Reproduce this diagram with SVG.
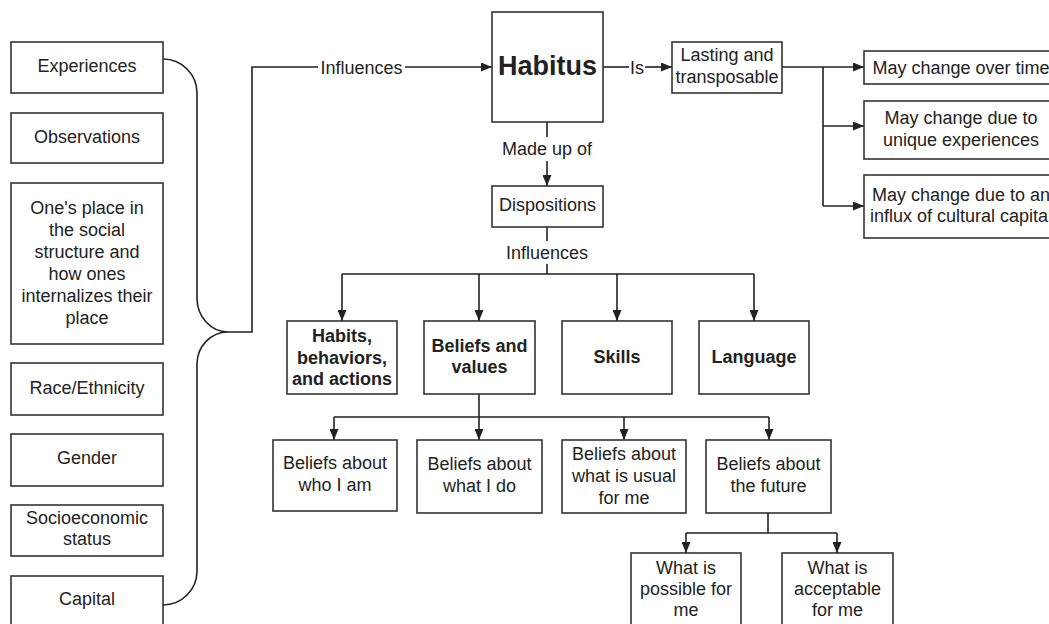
<svg xmlns="http://www.w3.org/2000/svg" width="1049" height="624" viewBox="0 0 1049 624">
<defs>
<marker id="arr" markerUnits="userSpaceOnUse" markerWidth="11" markerHeight="9" refX="11" refY="4.5" orient="auto">
<path d="M0,0 L11,4.5 L0,9 z" fill="#222"/>
</marker>
<style>
.box{fill:#fff;stroke:#333;stroke-width:1.6}
.t{font-family:"Liberation Sans",Arial,sans-serif;font-size:18px;fill:#222;text-anchor:middle}
.b{font-weight:bold}
.ln{fill:none;stroke:#222;stroke-width:1.6}
.ar{fill:none;stroke:#222;stroke-width:1.6;marker-end:url(#arr)}
</style>
</defs>
<rect width="1049" height="624" fill="#fff"/>

<g id="connectors">
<path class="ln" d="M163,59 A34,34 0 0 1 197,93 L197,298 A31,34 0 0 0 228,332 A31,32 0 0 0 197,364 L197,571 A34,34 0 0 1 163,605"/>
<path class="ln" d="M228,332 L252,332 L252,67 L318,67"/>
<path class="ar" d="M405,67 L492,67"/>
<text class="t" x="361.5" y="73.5">Influences</text>
<path class="ln" d="M603,67 L629,67"/>
<path class="ar" d="M645,67 L672,67"/>
<text class="t" x="637" y="73.5">Is</text>
<path class="ar" d="M782,67 L864,67"/>
<path class="ln" d="M823,67 L823,206"/>
<path class="ar" d="M823,126 L864,126"/>
<path class="ar" d="M823,206 L864,206"/>
<path class="ln" d="M547,122 L547,137"/>
<text class="t" x="547" y="154.5">Made up of</text>
<path class="ar" d="M547,161 L547,186"/>
<path class="ln" d="M547,227 L547,241"/>
<text class="t" x="547" y="258.5">Influences</text>
<path class="ln" d="M547,264 L547,274 M342,274 L754,274"/>
<path class="ar" d="M342,274 L342,321"/>
<path class="ar" d="M479,274 L479,321"/>
<path class="ar" d="M617,274 L617,321"/>
<path class="ar" d="M754,274 L754,321"/>
<path class="ln" d="M479,394 L479,417 M334,417 L769,417"/>
<path class="ar" d="M334,417 L334,440"/>
<path class="ar" d="M479,417 L479,440"/>
<path class="ar" d="M624,417 L624,440"/>
<path class="ar" d="M769,417 L769,440"/>
<path class="ln" d="M768,513 L768,533 M686,533 L837,533"/>
<path class="ar" d="M686,533 L686,553"/>
<path class="ar" d="M837,533 L837,553"/>
</g>

<g id="n-experiences"><rect class="box" x="11" y="42" width="152" height="51"/><text class="t" x="87" y="71.5">Experiences</text></g>
<g id="n-observations"><rect class="box" x="11" y="113" width="152" height="50"/><text class="t" x="87" y="142.5">Observations</text></g>
<g id="n-place"><rect class="box" x="11" y="183" width="152" height="161"/>
<text class="t" x="87" y="213.5">One's place in</text>
<text class="t" x="87" y="235.5">the social</text>
<text class="t" x="87" y="257.5">structure and</text>
<text class="t" x="87" y="279.5">how ones</text>
<text class="t" x="87" y="301.5">internalizes their</text>
<text class="t" x="87" y="323.5">place</text></g>
<g id="n-race"><rect class="box" x="11" y="363" width="152" height="52"/><text class="t" x="87" y="393.5">Race/Ethnicity</text></g>
<g id="n-gender"><rect class="box" x="11" y="434" width="152" height="52"/><text class="t" x="87" y="463.5">Gender</text></g>
<g id="n-socio"><rect class="box" x="11" y="505" width="152" height="51"/><text class="t" x="87" y="523.5">Socioeconomic</text><text class="t" x="87" y="544.5">status</text></g>
<g id="n-capital"><rect class="box" x="11" y="576" width="152" height="70"/><text class="t" x="87" y="604.5">Capital</text></g>

<g id="n-habitus"><rect class="box" x="492" y="12" width="111" height="110"/><text class="t b" x="547.5" y="75" style="font-size:27px">Habitus</text></g>
<g id="n-lasting"><rect class="box" x="672" y="42" width="110" height="51"/><text class="t" x="727" y="60.5">Lasting and</text><text class="t" x="727" y="82.5">transposable</text></g>
<g id="n-overtime"><rect class="box" x="864" y="51" width="194" height="33"/><text class="t" x="961" y="73.5">May change over time</text></g>
<g id="n-unique"><rect class="box" x="864" y="101" width="194" height="58"/><text class="t" x="961" y="123.5">May change due to</text><text class="t" x="961" y="145.5">unique experiences</text></g>
<g id="n-influx"><rect class="box" x="864" y="175" width="194" height="63"/><text class="t" x="961" y="200.5">May change due to an</text><text class="t" x="961" y="221.5">influx of cultural capital</text></g>
<g id="n-dispositions"><rect class="box" x="492" y="186" width="111" height="41"/><text class="t" x="547.5" y="210.5">Dispositions</text></g>

<g id="n-habits"><rect class="box" x="287" y="321" width="110" height="73"/><text class="t b" x="342" y="341.5">Habits,</text><text class="t b" x="342" y="363.5">behaviors,</text><text class="t b" x="342" y="384.5">and actions</text></g>
<g id="n-beliefs"><rect class="box" x="424" y="321" width="111" height="73"/><text class="t b" x="479.5" y="351.5">Beliefs and</text><text class="t b" x="479.5" y="372.5">values</text></g>
<g id="n-skills"><rect class="box" x="562" y="321" width="110" height="73"/><text class="t b" x="617" y="362.5">Skills</text></g>
<g id="n-language"><rect class="box" x="699" y="321" width="110" height="73"/><text class="t b" x="754" y="362.5">Language</text></g>

<g id="n-whoiam"><rect class="box" x="273" y="440" width="124" height="71"/><text class="t" x="335" y="468.5">Beliefs about</text><text class="t" x="335" y="490.5">who I am</text></g>
<g id="n-whatido"><rect class="box" x="417" y="440" width="125" height="73"/><text class="t" x="479.5" y="469.5">Beliefs about</text><text class="t" x="479.5" y="491.5">what I do</text></g>
<g id="n-usual"><rect class="box" x="562" y="440" width="124" height="73"/><text class="t" x="624" y="459.5">Beliefs about</text><text class="t" x="624" y="481.5">what is usual</text><text class="t" x="624" y="503.5">for me</text></g>
<g id="n-future"><rect class="box" x="706" y="440" width="125" height="73"/><text class="t" x="768.5" y="469.5">Beliefs about</text><text class="t" x="768.5" y="491.5">the future</text></g>
<g id="n-possible"><rect class="box" x="631" y="553" width="110" height="90"/><text class="t" x="686" y="573.5">What is</text><text class="t" x="686" y="594.5">possible for</text><text class="t" x="686" y="615.5">me</text></g>
<g id="n-acceptable"><rect class="box" x="782" y="553" width="111" height="90"/><text class="t" x="837.5" y="573.5">What is</text><text class="t" x="837.5" y="594.5">acceptable</text><text class="t" x="837.5" y="615.5">for me</text></g>
</svg>
